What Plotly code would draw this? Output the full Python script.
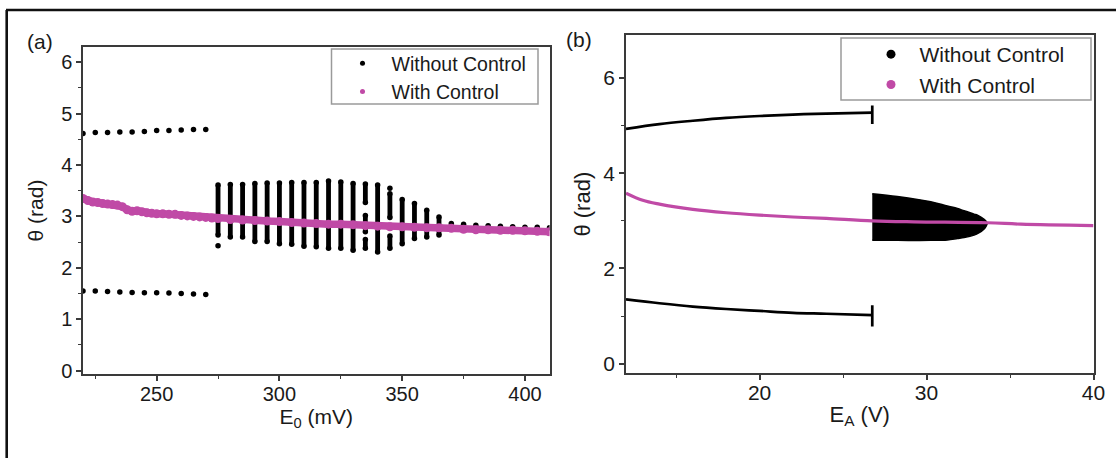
import plotly.graph_objects as go

W, H = 1116, 458
PINK = "#C04AA6"
BLACK = "#000000"
AX = "#3a3a3a"
FONT = 'Arial, "Liberation Sans", sans-serif'
TXT = "#1a1a1a"

# ---------------- Panel (a) data ----------------
a_p2_x = [220, 225, 230, 235, 240, 245, 250, 255, 260, 265, 270]
a_p2_upper = [4.61, 4.63, 4.63, 4.64, 4.64, 4.65, 4.67, 4.67, 4.68, 4.69, 4.69]
a_p2_lower = [1.55, 1.55, 1.54, 1.53, 1.52, 1.515, 1.515, 1.51, 1.50, 1.49, 1.48]

a_bar_x = [275, 280, 285, 290, 295, 300, 305, 310, 315, 320, 325, 330,
           335, 335, 335, 340, 345, 345, 350, 355, 360, 365]
a_bar_hi = [3.61, 3.62, 3.62, 3.64, 3.65, 3.65, 3.66, 3.66, 3.66, 3.69, 3.67, 3.64,
            3.63, 3.02, 2.55, 3.61, 3.44, 2.62, 3.33, 3.25, 3.12, 2.99]
a_bar_lo = [2.64, 2.60, 2.60, 2.51, 2.51, 2.47, 2.46, 2.42, 2.41, 2.38, 2.38, 2.34,
            3.27, 2.70, 2.38, 2.31, 2.98, 2.38, 2.47, 2.57, 2.60, 2.64]

a_dot_x = [275, 345, 370, 375, 380, 385, 390, 395, 400, 405, 410]
a_dot_y = [2.43, 3.55, 2.86, 2.85, 2.83, 2.82, 2.81, 2.80, 2.79, 2.79, 2.78]

a_pink_x = [220, 222, 224, 226, 228, 230, 232, 234, 236, 238, 240, 242, 244, 246,
            248, 250, 252.5, 255, 257.5, 260, 262.5, 265, 267.5, 270, 272.5, 275,
            280, 285, 290, 295, 300, 305, 310, 315, 320, 325, 330, 335, 340, 345,
            350, 355, 360, 365, 370, 375, 380, 385, 390, 395, 400, 405, 410]
a_pink_y = [3.35, 3.31, 3.28, 3.27, 3.25, 3.24, 3.23, 3.22, 3.19, 3.13, 3.10, 3.11,
            3.09, 3.07, 3.06, 3.05, 3.05, 3.04, 3.04, 3.02, 3.01, 3.00, 2.99, 2.98,
            2.97, 2.96, 2.94, 2.93, 2.92, 2.91, 2.90, 2.88, 2.87, 2.86, 2.85, 2.85,
            2.84, 2.82, 2.81, 2.80, 2.80, 2.79, 2.78, 2.78, 2.77, 2.75, 2.74, 2.74,
            2.73, 2.73, 2.72, 2.71, 2.70]

# ---------------- Panel (b) data ----------------
b_branch_x = [12, 14, 16, 18, 20, 22, 24, 26.75]
b_upper_y = [4.93, 5.03, 5.10, 5.16, 5.20, 5.23, 5.25, 5.27]
b_lower_y = [1.35, 1.27, 1.20, 1.15, 1.11, 1.07, 1.05, 1.02]
b_end_x = 26.75
b_upper_end = [5.03, 5.42]
b_lower_end = [0.78, 1.23]

b_top_x = [26.75, 28.25, 30.25, 31.25, 31.85, 32.25, 32.85, 33.05, 33.45, 33.65]
b_top_y = [3.57, 3.51, 3.40, 3.31, 3.26, 3.21, 3.14, 3.12, 3.03, 2.95]
b_bot_x = [26.75, 28.25, 30.25, 31.25, 31.85, 32.25, 32.85, 33.05, 33.48, 33.65]
b_bot_y = [2.59, 2.59, 2.59, 2.60, 2.63, 2.65, 2.70, 2.73, 2.84, 2.95]

b_pink_x = [12, 13, 14, 16, 18, 20, 22, 24, 26.75, 29.25, 33.65, 35.65, 40]
b_pink_y = [3.58, 3.43, 3.35, 3.24, 3.17, 3.12, 3.08, 3.05, 3.00, 2.98, 2.96, 2.93, 2.90]

LEG_A = "Without Control"
LEG_B = "With Control"


def segments(xs, lo, hi):
    X, Y = [], []
    for x, l, h in zip(xs, lo, hi):
        X += [x, x, None]
        Y += [l, h, None]
    return X, Y


fig = go.Figure()

# ---- panel (a) traces ----
bx, by = segments(a_bar_x, a_bar_lo, a_bar_hi)
fig.add_trace(go.Scatter(x=bx, y=by, mode="lines+markers", xaxis="x", yaxis="y",
                         line=dict(color=BLACK, width=4.8),
                         marker=dict(color=BLACK, size=5.5), showlegend=False,
                         hoverinfo="skip"))
fig.add_trace(go.Scatter(x=a_p2_x + a_p2_x, y=a_p2_upper + a_p2_lower, mode="markers",
                         xaxis="x", yaxis="y", marker=dict(color=BLACK, size=5.5),
                         showlegend=False))
fig.add_trace(go.Scatter(x=a_dot_x, y=a_dot_y, mode="markers", xaxis="x", yaxis="y",
                         marker=dict(color=BLACK, size=5.5), showlegend=False))
fig.add_trace(go.Scatter(x=a_pink_x, y=a_pink_y, mode="lines+markers", xaxis="x", yaxis="y",
                         line=dict(color=PINK, width=7.5),
                         marker=dict(color=PINK, size=9), showlegend=False))
# legend entries (a)
fig.add_trace(go.Scatter(x=[None], y=[None], mode="markers", xaxis="x", yaxis="y",
                         marker=dict(color=BLACK, size=5), name=LEG_A, legend="legend"))
fig.add_trace(go.Scatter(x=[None], y=[None], mode="markers", xaxis="x", yaxis="y",
                         marker=dict(color=PINK, size=5), name=LEG_B, legend="legend"))

# ---- panel (b) traces ----
fig.add_trace(go.Scatter(x=b_branch_x, y=b_upper_y, mode="lines", xaxis="x2", yaxis="y2",
                         line=dict(color=BLACK, width=2.7, shape="spline"), showlegend=False))
fig.add_trace(go.Scatter(x=b_branch_x, y=b_lower_y, mode="lines", xaxis="x2", yaxis="y2",
                         line=dict(color=BLACK, width=2.7, shape="spline"), showlegend=False))
ex, ey = segments([b_end_x, b_end_x], [b_upper_end[0], b_lower_end[0]],
                  [b_upper_end[1], b_lower_end[1]])
fig.add_trace(go.Scatter(x=ex, y=ey, mode="lines", xaxis="x2", yaxis="y2",
                         line=dict(color=BLACK, width=2.7), showlegend=False))
poly_x = b_top_x + b_bot_x[::-1]
poly_y = b_top_y + b_bot_y[::-1]
fig.add_trace(go.Scatter(x=poly_x, y=poly_y, mode="lines", fill="toself", xaxis="x2", yaxis="y2",
                         fillcolor=BLACK, line=dict(color=BLACK, width=1.5, shape="spline"),
                         showlegend=False))
fig.add_trace(go.Scatter(x=b_pink_x, y=b_pink_y, mode="lines", xaxis="x2", yaxis="y2",
                         line=dict(color=PINK, width=3.2, shape="spline"), showlegend=False))
# legend entries (b)
fig.add_trace(go.Scatter(x=[None], y=[None], mode="markers", xaxis="x2", yaxis="y2",
                         marker=dict(color=BLACK, size=9), name=LEG_A, legend="legend2"))
fig.add_trace(go.Scatter(x=[None], y=[None], mode="markers", xaxis="x2", yaxis="y2",
                         marker=dict(color=PINK, size=9), name=LEG_B, legend="legend2"))


def axis_common(size):
    return dict(showline=True, linecolor=AX, linewidth=1.5, mirror=True,
                ticks="outside", ticklen=5, tickwidth=1.5, tickcolor=AX,
                showgrid=False, zeroline=False, automargin=False,
                tickfont=dict(size=size, family=FONT, color=TXT))


xa = axis_common(20)
xa.update(domain=[83 / W, 549.5 / W], range=[220, 410], tick0=250, dtick=50,
          anchor="y", ticklabelstandoff=-4,
          minor=dict(dtick=25, ticks="outside", ticklen=3, tickwidth=1.2, tickcolor=AX),
          title=dict(text="E<sub>0</sub> (mV)", standoff=3,
                     font=dict(size=21, family=FONT, color=TXT)))
ya = axis_common(20)
ya.update(domain=[1 - 374.3 / H, 1 - 46.7 / H], range=[-0.07, 6.3], tick0=0, dtick=1,
          anchor="x",
          minor=dict(dtick=0.5, ticks="outside", ticklen=3, tickwidth=1.2, tickcolor=AX),
          title=dict(text="θ (rad)", standoff=12,
                     font=dict(size=21, family=FONT, color=TXT)))
xb = axis_common(21)
xb.update(domain=[626 / W, 1093.5 / W], range=[12, 40], tick0=0, dtick=10,
          anchor="y2", ticklabelstandoff=-5,
          minor=dict(dtick=5, ticks="outside", ticklen=3, tickwidth=1.2, tickcolor=AX),
          title=dict(text="E<sub>A</sub> (V)", standoff=3,
                     font=dict(size=22, family=FONT, color=TXT)))
yb = axis_common(21)
yb.update(domain=[1 - 373.3 / H, 1 - 35 / H], range=[-0.2, 6.9], tick0=0, dtick=2,
          anchor="x2",
          minor=dict(dtick=1, ticks="outside", ticklen=3, tickwidth=1.2, tickcolor=AX),
          title=dict(text="θ (rad)", standoff=7,
                     font=dict(size=22, family=FONT, color=TXT)))

shapes = [
    # outer frame (top and left edges of the figure border)
    dict(type="line", xref="paper", yref="paper", x0=6 / W, x1=1.0, y0=1 - 10 / H, y1=1 - 10 / H,
         line=dict(color="#111111", width=2.6)),
    dict(type="line", xref="paper", yref="paper", x0=6.7 / W, x1=6.7 / W, y0=1 - 10 / H, y1=0,
         line=dict(color="#111111", width=2.6)),
    # legend boxes
    dict(type="rect", xref="paper", yref="paper", x0=331.5 / W, x1=538 / W,
         y0=1 - 104 / H, y1=1 - 49 / H, line=dict(color="#9a9a9a", width=1.5),
         fillcolor="white", layer="above"),
    dict(type="rect", xref="paper", yref="paper", x0=841 / W, x1=1091 / W,
         y0=1 - 100 / H, y1=1 - 38 / H, line=dict(color="#9a9a9a", width=1.5),
         fillcolor="white", layer="above"),
]

annotations = [
    dict(text="(a)", xref="paper", yref="paper", x=40 / W, y=1 - 42 / H, showarrow=False,
         xanchor="center", yanchor="middle", font=dict(size=21, family=FONT, color=TXT)),
    dict(text="(b)", xref="paper", yref="paper", x=579.5 / W, y=1 - 40 / H, showarrow=False,
         xanchor="center", yanchor="middle", font=dict(size=21, family=FONT, color=TXT)),
]

fig.update_layout(
    width=W, height=H, margin=dict(l=0, r=0, t=0, b=0),
    paper_bgcolor="white", plot_bgcolor="white",
    font=dict(family=FONT, color=TXT),
    xaxis=xa, yaxis=ya, xaxis2=xb, yaxis2=yb,
    shapes=shapes, annotations=annotations,
    legend=dict(x=331.5 / W, y=1 - 44 / H, xanchor="left", yanchor="top",
                bgcolor="rgba(0,0,0,0)", borderwidth=0, itemwidth=48, indentation=2,
                font=dict(size=19.5, family=FONT, color=TXT), tracegroupgap=0),
    legend2=dict(x=841 / W, y=1 - 34 / H, xanchor="left", yanchor="top",
                 bgcolor="rgba(0,0,0,0)", borderwidth=0, itemwidth=47, indentation=21.5,
                 font=dict(size=21, family=FONT, color=TXT), tracegroupgap=0),
    showlegend=True,
)

fig.write_html("out.html")
